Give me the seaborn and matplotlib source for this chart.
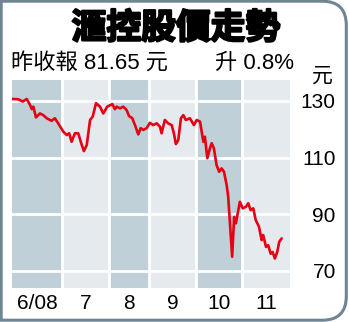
import matplotlib
matplotlib.use("Agg")
import matplotlib.pyplot as plt
import matplotlib.patheffects as pe
from matplotlib.path import Path
from matplotlib.patches import PathPatch
import seaborn as sns
import pandas as pd

# ---- data ----
days = [0.0, 2.9, 4.9, 6.7, 8.2, 9.0, 9.7, 10.9, 12.7, 14.2, 15.8, 18.0, 19.5, 21.0,
        23.3, 24.9, 26.0, 27.1, 28.6, 30.1, 31.7, 32.7, 34.0, 35.5, 36.7, 38.2, 40.0,
        41.5, 43.3, 45.6, 46.8, 47.6, 49.1, 50.6, 52.1, 53.2, 54.7, 56.2, 57.4, 58.5,
        59.7, 61.2, 62.7, 64.2, 65.8, 67.3, 68.0, 69.5, 71.0, 72.6, 73.6, 74.5, 75.6,
        76.8, 77.9, 79.0, 80.9, 82.7, 84.0, 85.5, 87.0, 87.7, 88.8, 90.0, 90.8, 91.8,
        93.0, 94.2, 95.3, 96.4, 97.6, 98.3, 99.1, 100.1, 101.0, 101.8, 102.9, 103.6,
        104.9, 106.4, 107.4, 108.5, 109.7, 110.8, 112.3, 113.5, 114.2, 115.5, 116.5,
        117.6, 118.5, 119.5, 120.6, 121.5, 122.6]
prices = [130.7, 130.6, 129.8, 130.7, 128.6, 127.1, 128.0, 124.2, 125.6, 125.0, 123.9,
          123.0, 123.9, 122.1, 119.2, 118.0, 118.6, 115.6, 118.6, 118.6, 114.5, 112.3,
          114.5, 123.3, 124.5, 129.2, 128.0, 125.6, 128.0, 128.9, 127.1, 128.0, 127.4,
          128.0, 126.8, 124.7, 123.9, 120.9, 118.2, 120.4, 119.8, 120.4, 122.3, 121.5,
          122.1, 120.9, 118.6, 123.3, 122.1, 121.5, 118.6, 114.8, 116.2, 123.9, 125.0,
          123.3, 123.9, 121.5, 123.3, 122.7, 115.6, 117.4, 109.8, 113.3, 115.1, 113.3,
          107.4, 105.0, 106.2, 105.0, 100.3, 96.2, 86.8, 75.0, 89.1, 86.8, 91.5, 94.4,
          92.1, 92.7, 93.9, 91.5, 92.1, 88.0, 85.6, 80.9, 82.7, 78.5, 79.1, 76.1, 76.7,
          74.4, 76.7, 80.3, 81.5]
month_edges = [0, 22.7, 44.1, 62.5, 83.6, 104.8, 126.4]
month_labels = ["6/08", "7", "8", "9", "10", "11"]
y_ticks = [70, 90, 110, 130]

title = "滙控股價走勢"
close_text = "昨收報 81.65 元"
change_text = "升 0.8%"
unit_text = "元"

# ---- style ----
sns.set_theme(style="white")
plt.rcParams["font.family"] = ["Liberation Sans", "Noto Sans CJK TC", "DejaVu Sans"]

W, H = 349, 322
fig = plt.figure(figsize=(W / 100, H / 100), dpi=100)
fig.patch.set_facecolor("white")

# frame with rounded right corners (figure pixel coords)
x0, y0, x1, y1 = 1.2, 1.8, 346.3, 320.8
r = 24
verts = [(x0, y0), (x1 - r, y0), (x1, y0), (x1, y0 + r), (x1, y1 - r), (x1, y1),
         (x1 - r, y1), (x0, y1), (x0, y0)]
codes = [Path.MOVETO, Path.LINETO, Path.CURVE3, Path.CURVE3, Path.LINETO, Path.CURVE3,
         Path.CURVE3, Path.LINETO, Path.CLOSEPOLY]
frame = PathPatch(Path([(vx / W, vy / H) for vx, vy in verts], codes),
                  transform=fig.transFigure, facecolor="none",
                  edgecolor="#6f8593", lw=2.2, zorder=5)
fig.patches.append(frame)

ax = fig.add_axes([12 / W, 34 / H, 278 / W, 208 / H])
ax.set_facecolor("white")
dark, light = "#c0d0d9", "#e4eaee"
for i in range(len(month_labels)):
    ax.axvspan(month_edges[i], month_edges[i + 1],
               color=dark if i % 2 == 0 else light, lw=0, zorder=0)
for e in month_edges[1:-1]:
    ax.axvline(e, color="white", lw=2.0, zorder=1)
for t in y_ticks:
    ax.axhline(t, color="white", lw=2.0, zorder=1)

df = pd.DataFrame({"day": days, "price": prices})
sns.lineplot(data=df, x="day", y="price", ax=ax, color="#e60012", lw=1.9, zorder=3)

ax.set_xlim(month_edges[0], month_edges[-1])
ax.set_ylim(64.0, 137.4)
for s in ax.spines.values():
    s.set_visible(False)
ax.set_xlabel("")
ax.set_ylabel("")

centers = [(month_edges[i] + month_edges[i + 1]) / 2 for i in range(len(month_labels))]
ax.set_xticks(centers)
ax.set_xticklabels(month_labels)
ax.tick_params(axis="x", length=0, pad=4, labelsize=15, colors="black")
ax.set_yticks(y_ticks)
ax.set_yticklabels([str(t) for t in y_ticks])
ax.tick_params(axis="y", left=False, labelleft=False, right=False, labelright=True,
               length=0, pad=33, labelsize=15, colors="black")
for lbl in ax.get_yticklabels():
    lbl.set_horizontalalignment("right")

# texts
fig.text(176 / W, 1 - 28 / H, title, ha="center", va="center", fontsize=25,
         fontweight="bold", family=["Noto Sans CJK TC"], color="black",
         path_effects=[pe.withStroke(linewidth=1.6, foreground="black")])
fig.text(11 / W, 1 - 63 / H, close_text, ha="left", va="center", fontsize=16,
         color="black")
fig.text(294 / W, 1 - 63 / H, change_text, ha="right", va="center", fontsize=16,
         color="black")
fig.text(322 / W, 1 - 76 / H, unit_text, ha="center", va="center", fontsize=15,
         color="black")

fig.savefig("out.png", dpi=100, facecolor="white")
